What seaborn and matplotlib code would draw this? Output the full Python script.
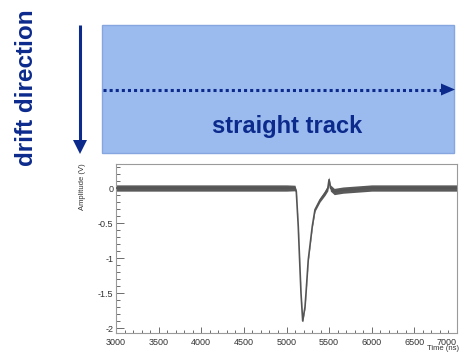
import matplotlib
matplotlib.use("Agg")
import matplotlib.pyplot as plt
from matplotlib.patches import Rectangle, Polygon
from matplotlib.ticker import MultipleLocator, FuncFormatter
import seaborn as sns

# ---- data ----
time_ns = [3000, 3500, 4000, 4500, 5000, 5100, 5115, 5138, 5154, 5170, 5190,
           5217, 5229, 5255, 5302, 5334, 5393, 5452, 5485, 5499, 5515, 5560,
           5663, 6000, 6500, 7000]
amp_v = [0.0, 0.0, 0.0, 0.0, 0.0, 0.0, -0.05, -0.55, -1.03, -1.5, -1.9,
         -1.7, -1.5, -1.03, -0.55, -0.31, -0.17, -0.07, 0.0, 0.12, 0.0, -0.05,
         -0.03, 0.0, 0.0, 0.0]
noise_v = [0.045, 0.045, 0.045, 0.045, 0.045, 0.04, 0.015, 0.012, 0.012, 0.012, 0.015,
           0.015, 0.015, 0.015, 0.02, 0.025, 0.03, 0.035, 0.04, 0.04, 0.045, 0.045,
           0.045, 0.045, 0.045, 0.045]
x_ticks_major = 500
y_ticks_major = 0.5
xlabel = "Time (ns)"
ylabel = "Amplitude (V)"
track_label = "straight track"
drift_label = "drift direction"

sns.set_theme(style="white")
plt.rcParams["font.family"] = ["Liberation Sans", "DejaVu Sans"]
plt.rcParams["axes.unicode_minus"] = False

W, H = 460, 353
fig = plt.figure(figsize=(W / 100, H / 100), dpi=100)

navy = "#0b2a8c"

# overlay for the schematic drawing (pixel coordinates)
ov = fig.add_axes([0, 0, 1, 1])
ov.set_xlim(0, W)
ov.set_ylim(H, 0)
ov.axis("off")
ov.add_patch(Rectangle((102, 25), 352, 128, facecolor="#9bbbef",
                       edgecolor="#86a6e0", lw=1))
ov.plot([103, 442], [89.5, 89.5], color=navy, lw=2.2,
        linestyle=(0, (1, 1)), dash_capstyle="butt")
ov.add_patch(Polygon([(441, 83.5), (455, 89.5), (441, 95.5)], closed=True,
                     facecolor=navy, edgecolor="none"))
ov.plot([80, 80], [25, 142], color=navy, lw=2.2, solid_capstyle="butt")
ov.add_patch(Polygon([(73, 140), (87, 140), (80, 154)], closed=True,
                     facecolor=navy, edgecolor="none"))
ov.text(287, 133, track_label, ha="center", va="baseline", fontsize=17,
        fontweight="bold", color=navy)
ov.text(27, 88, drift_label, ha="center", va="center", rotation=90,
        fontsize=17.5, fontweight="bold", color=navy)

# waveform axes
ax = fig.add_axes([116 / W, 20 / H, 341 / W, 169 / H])
ax.fill_between(time_ns, [a - n for a, n in zip(amp_v, noise_v)],
                [a + n for a, n in zip(amp_v, noise_v)],
                color="#5a5a5a", lw=0, zorder=2)
sns.lineplot(x=time_ns, y=amp_v, ax=ax, color="#555555", lw=1.2, zorder=3)
ax.set_xlim(3000, 7000)
ax.set_ylim(-2.071, 0.343)
ax.xaxis.set_major_locator(MultipleLocator(x_ticks_major))
ax.xaxis.set_minor_locator(MultipleLocator(100))
ax.yaxis.set_major_locator(MultipleLocator(y_ticks_major))
ax.yaxis.set_minor_locator(MultipleLocator(0.1))
ax.yaxis.set_major_formatter(FuncFormatter(lambda v, p: f"{v:g}"))
ax.xaxis.set_major_formatter(FuncFormatter(lambda v, p: f"{v:g}"))
ax.tick_params(which="both", direction="in", color="#555555", width=0.6,
               labelcolor="#333333", bottom=True, left=True,
               top=False, right=False)
ax.tick_params(axis="x", which="major", length=4, pad=3.5, labelsize=6.5)
ax.tick_params(axis="x", which="minor", length=2)
ax.tick_params(axis="y", which="major", length=6, pad=2, labelsize=6.5)
ax.tick_params(axis="y", which="minor", length=3)
for s in ax.spines.values():
    s.set_color("#9a9a9a")
    s.set_linewidth(0.8)
ax.set_xlabel("")
ax.set_ylabel("")
ax.set_facecolor("white")
fig.canvas.draw()
for lbl in ax.get_xticklabels():
    if lbl.get_text() == "7000":
        lbl.set_horizontalalignment("right")
        lbl.set_x(7000)

fig.text(83 / W, 1 - 163 / H, ylabel, rotation=90, ha="center", va="top",
         fontsize=5.5, color="#333333")
fig.text(459 / W, 0.5 / H, xlabel, ha="right", va="bottom",
         fontsize=5.5, color="#333333")

fig.savefig("out.png", dpi=100)
